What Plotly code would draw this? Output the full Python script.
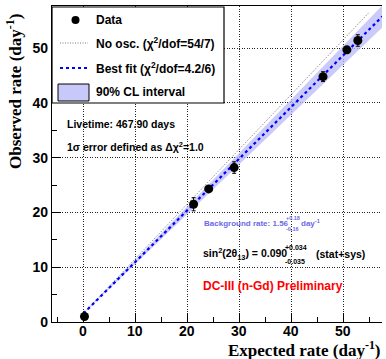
import numpy as np
import plotly.graph_objects as go

# ---------------- data ----------------
expected = [0.2, 21.2, 24.1, 29.0, 46.1, 50.7, 52.8]
observed = [1.0, 21.5, 24.3, 28.2, 44.8, 49.7, 51.4]
obs_err = [0.3, 1.2, 0.5, 1.05, 0.9, 0.6, 1.05]

bkg_rate = 1.56
fit_slope = 0.943
band_slope_lo = 0.908
band_slope_hi = 0.978
noosc_slope = 1.0

fit_x = [0.0, 57.5]
noosc_x = [0.0, 55.0]

x_ticks = [0, 10, 20, 30, 40, 50]
x_tick_labels = ["0", "10", "20", "30", "40", "50"]
y_ticks = [0, 10, 20, 30, 40, 50]

# ---------------- geometry helpers ----------------
W, H = 386, 359
ML, MR, MT, MB = 52, 4, 6, 37
PW, PH = W - ML - MR, H - MT - MB


def px(x):
    return (x - ML) / PW


def py(y):
    return (H - MB - y) / PH


FONT = "Liberation Sans"
SERIF = "Liberation Serif"

fig = go.Figure()

# 90% CL band
bx = np.array(fit_x)
fig.add_trace(go.Scatter(x=bx, y=bkg_rate + band_slope_lo * bx, mode="lines",
                         line=dict(width=0, color="rgba(0,0,0,0)"), showlegend=False,
                         hoverinfo="skip"))
fig.add_trace(go.Scatter(x=bx, y=bkg_rate + band_slope_hi * bx, mode="lines",
                         line=dict(width=0, color="rgba(0,0,0,0)"), fill="tonexty",
                         fillcolor="rgba(185,185,250,0.75)", showlegend=False,
                         hoverinfo="skip"))

# No oscillation line
nx = np.array(noosc_x)
fig.add_trace(go.Scatter(x=nx, y=bkg_rate + noosc_slope * nx, mode="lines",
                         line=dict(color="#555555", width=0.8, dash="1px,1.5px"),
                         showlegend=False))

# Best fit line
fig.add_trace(go.Scatter(x=bx, y=bkg_rate + fit_slope * bx, mode="lines",
                         line=dict(color="#0000ff", width=2.2, dash="dot"),
                         showlegend=False))

# Data
fig.add_trace(go.Scatter(x=expected, y=observed, mode="markers",
                         marker=dict(color="black", size=9),
                         error_y=dict(type="data", array=obs_err, color="black",
                                      thickness=1, width=2),
                         showlegend=False))

axis_common = dict(
    showline=True, linecolor="black", linewidth=1.2,
    ticks="inside", ticklen=9, tickcolor="black", tickwidth=1,
    showgrid=True, gridcolor="#222222", griddash="1px,1.5px", gridwidth=1,
    zeroline=False,
    tickfont=dict(family=FONT, size=14, color="black", weight="bold"),
    minor=dict(ticks="inside", ticklen=5, dtick=5, tickcolor="black", showgrid=False),
)

fig.update_xaxes(range=[-6.05, 57.45], tickvals=x_ticks, mirror=True,
                 showticklabels=False, **axis_common)
fig.update_yaxes(range=[0, 57.7], tickvals=y_ticks, **axis_common)

shapes = []
# legend box
shapes.append(dict(type="rect", xref="paper", yref="paper",
                   x0=px(52), x1=px(224), y0=py(103), y1=py(7),
                   line=dict(color="black", width=1.2), fillcolor="white", layer="above"))
# legend: data dot
shapes.append(dict(type="circle", xref="paper", yref="paper",
                   x0=px(71.5), x1=px(79.5), y0=py(24), y1=py(16),
                   line=dict(color="black", width=0), fillcolor="black", layer="above"))
# legend: no osc line
shapes.append(dict(type="line", xref="paper", yref="paper",
                   x0=px(60), x1=px(88), y0=py(43), y1=py(43),
                   line=dict(color="#555555", width=0.8, dash="1px,1.5px"), layer="above"))
# legend: best fit line
shapes.append(dict(type="line", xref="paper", yref="paper",
                   x0=px(60), x1=px(88), y0=py(68), y1=py(68),
                   line=dict(color="#0000ff", width=2, dash="dot"), layer="above"))
# legend: band box
shapes.append(dict(type="rect", xref="paper", yref="paper",
                   x0=px(58), x1=px(89), y0=py(101), y1=py(84),
                   line=dict(color="black", width=1), fillcolor="#c8c8fa", layer="above"))

annotations = []


def ann(text, x, y, size, color="black", xanchor="left", family=FONT, **kw):
    annotations.append(dict(text=text, x=px(x), y=py(y), xref="paper", yref="paper",
                            xanchor=xanchor, yanchor="middle", showarrow=False,
                            borderpad=0,
                            font=dict(family=family, size=size, color=color, weight="bold"),
                            **kw))


# x tick labels (placed through the x scale)
for tv, tl in zip(x_ticks, x_tick_labels):
    annotations.append(dict(text=tl, x=tv, y=py(330.5), xref="x", yref="paper",
                            xanchor="center", yanchor="middle", showarrow=False,
                            borderpad=0,
                            font=dict(family=FONT, size=14, color="black", weight="bold")))

# legend texts
ann("Data", 95, 20, 12)
ann("No osc. (χ<sup>2</sup>/dof=54/7)", 95, 43, 12)
ann("Best fit (χ<sup>2</sup>/dof=4.2/6)", 95, 68, 12)
ann("90% CL interval", 95, 92, 12)

# info texts
ann("Livetime: 467.90 days", 66, 124, 10.5)
ann("1σ error defined as Δχ<sup>2</sup>=1.0", 66, 146, 10.5)

ann("Background rate: 1.56", 203, 223, 8, color="#6a6ae6")
ann("+0.18", 285, 218, 5.5, color="#6a6ae6")
ann("-0.16", 285, 229, 5.5, color="#6a6ae6")
ann("day<sup>-1</sup>", 300, 223, 8, color="#6a6ae6")

ann("sin<sup>2</sup>(2θ<sub>13</sub>) = 0.090", 202, 254, 10.5)
ann("+0.034", 284, 247, 7)
ann("-0.035", 284, 261, 7)
ann("(stat+sys)", 315, 254, 10.5)

ann("DC-III (n-Gd) Preliminary", 202, 286, 12, color="#ff0000")

# axis titles
ann("Expected rate (day<sup>-1</sup>)", 382, 349, 17, xanchor="right", family=SERIF)
annotations.append(dict(text="Observed rate (day<sup>-1</sup>)", x=px(14), y=py(92),
                        xref="paper", yref="paper", xanchor="center", yanchor="middle",
                        showarrow=False, textangle=-90, borderpad=0,
                        font=dict(family=SERIF, size=17, color="black", weight="bold")))

fig.update_layout(
    width=W, height=H,
    margin=dict(l=ML, r=MR, t=MT, b=MB),
    paper_bgcolor="white", plot_bgcolor="white",
    shapes=shapes, annotations=annotations,
    showlegend=False,
)

fig.write_html("out.html", config={"displayModeBar": False},
               post_script="document.body.style.margin='0px';document.body.style.padding='0px';")
